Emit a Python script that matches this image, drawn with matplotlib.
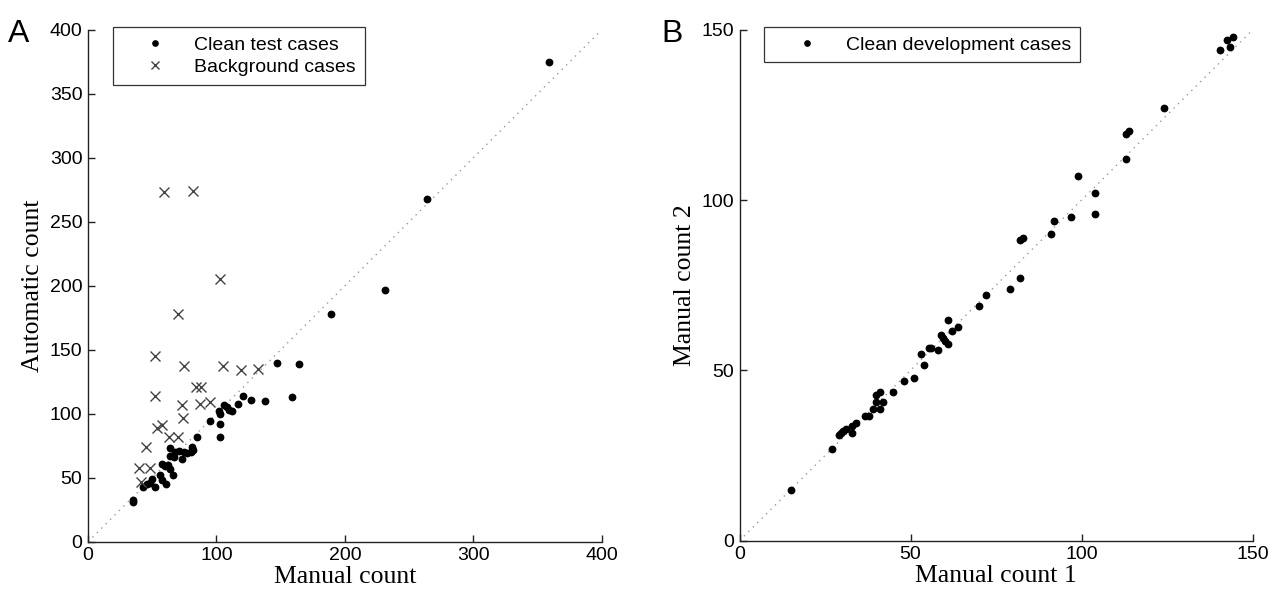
import matplotlib
matplotlib.use('Agg')
import matplotlib.pyplot as plt
from matplotlib.lines import Line2D

# ── Panel A data (manual vs automatic count) ─────────────────────────────────
clean_manual = [35, 35, 43, 46, 48, 50, 52, 56, 58, 61, 58, 60, 62, 64,
                64, 64, 67, 68, 66, 71, 73, 75, 77, 80, 81, 82, 85, 95,
                102, 103, 103, 103, 106, 108, 110, 112, 117, 121, 127,
                138, 147, 159, 164, 189, 231, 264, 359]
clean_auto = [33, 31, 43, 45, 46, 49, 43, 52, 48, 45, 61, 59, 60, 57,
              73, 67, 66, 70, 52, 71, 65, 70, 69, 70, 74, 72, 82, 94,
              102, 100, 92, 82, 107, 105, 103, 102, 108, 114, 111,
              110, 140, 113, 139, 178, 197, 268, 375]

bg_manual = [52, 75, 105, 119, 132, 52, 84, 88, 73, 87, 95, 74, 54, 58,
             63, 70, 45, 40, 48, 41, 59, 82, 103, 70]
bg_auto = [145, 137, 137, 134, 135, 114, 121, 121, 107, 108, 109, 97, 89,
           91, 82, 82, 74, 58, 58, 47, 273, 274, 205, 178]

# ── Panel B data (two manual counts, development set) ────────────────────────
dev_count1 = [15, 27, 29, 29.7, 30.4, 31.1, 33, 33, 34, 36.8, 38, 39, 41,
              40, 42, 40, 41, 45, 48, 51, 54, 53, 55.3, 56, 58, 59, 59.5,
              60.2, 61, 61, 62, 64, 70, 72, 79, 82, 82, 83, 91, 92, 97,
              99, 104, 104, 113, 113, 114, 124, 140.4, 142.4, 144.3, 143.4]
dev_count2 = [15, 27, 31, 31.5, 32.1, 32.8, 31.6, 33.6, 34.6, 36.5, 36.5,
              38.7, 38.7, 40.7, 40.7, 42.7, 43.6, 43.6, 46.8, 47.7, 51.7,
              54.8, 56.6, 56.6, 55.9, 60.5, 59.6, 58.6, 57.6, 64.8, 61.7,
              62.7, 69, 72, 74, 77, 88.3, 89, 90, 94, 95, 107, 96, 102,
              112, 119.3, 120.3, 127, 144, 147, 148, 145]

A_TICKS = [0, 100, 200, 300, 400]
A_YTICKS = [0, 50, 100, 150, 200, 250, 300, 350, 400]
B_TICKS = [0, 50, 100, 150]

SANS = 'Liberation Sans'
SERIF = 'Liberation Serif'
plt.rcParams['font.family'] = SANS

TICK_FS = 14
LABEL_FS = 18.5
DOT_MS = 4.6
LEG_KW = dict(fontsize=TICK_FS, frameon=True, fancybox=False,
              edgecolor='black', handlelength=3.5, handletextpad=0.25,
              borderpad=0.45, labelspacing=0.25, borderaxespad=0)


def style_axes(ax):
    for side in ('top', 'right'):
        ax.spines[side].set_visible(False)
    for side in ('left', 'bottom'):
        ax.spines[side].set_linewidth(1.0)
        ax.spines[side].set_color('#222222')
    ax.tick_params(direction='in', length=5, width=1.0, labelsize=TICK_FS,
                   colors='#222222', labelcolor='black', pad=4)


fig = plt.figure(figsize=(12.81, 5.98), dpi=100)
axA = fig.add_axes([0.0687, 0.094, 0.401, 0.856])
axB = fig.add_axes([0.5773, 0.096, 0.4005, 0.854])

# ── Panel A ──────────────────────────────────────────────────────────────────
axA.plot([0, 400], [0, 400], linestyle=(0, (1, 3.5)), color='#999999', lw=1.0)
axA.plot(clean_manual, clean_auto, 'o', color='black', ms=DOT_MS, mec='black')
axA.plot(bg_manual, bg_auto, 'x', color='#444444', ms=6.5, mew=1.0)
axA.set_xlim(0, 400)
axA.set_ylim(0, 400)
axA.set_xticks(A_TICKS)
axA.set_yticks(A_YTICKS)
style_axes(axA)
axA.set_xlabel('Manual count', family=SERIF, fontsize=LABEL_FS, labelpad=1)
axA.set_ylabel('Automatic count', family=SERIF, fontsize=LABEL_FS, labelpad=4)
handlesA = [Line2D([], [], marker='o', ls='none', color='black', ms=3.8),
            Line2D([], [], marker='x', ls='none', color='#444444', ms=6, mew=1.0)]
legA = axA.legend(handlesA, ['Clean test cases', 'Background cases'],
                  loc='upper left', bbox_to_anchor=(0.048, 1.005), **LEG_KW)
legA.get_frame().set_linewidth(0.9)
fig.text(0.006, 0.93, 'A', fontsize=23, family=SANS)

# ── Panel B ──────────────────────────────────────────────────────────────────
axB.plot([0, 150], [0, 150], linestyle=(0, (1, 3.5)), color='#999999', lw=1.0)
axB.plot(dev_count1, dev_count2, 'o', color='black', ms=DOT_MS, mec='black')
axB.set_xlim(0, 150)
axB.set_ylim(0, 150)
axB.set_xticks(B_TICKS)
axB.set_yticks(B_TICKS)
style_axes(axB)
axB.set_xlabel('Manual count 1', family=SERIF, fontsize=LABEL_FS, labelpad=1)
axB.set_ylabel('Manual count 2', family=SERIF, fontsize=LABEL_FS, labelpad=4)
handlesB = [Line2D([], [], marker='o', ls='none', color='black', ms=3.8)]
legB = axB.legend(handlesB, ['Clean development cases'],
                  loc='upper left', bbox_to_anchor=(0.048, 1.005), **LEG_KW)
legB.get_frame().set_linewidth(0.9)
fig.text(0.516, 0.93, 'B', fontsize=23, family=SANS)

fig.savefig('out.png', dpi=100)
